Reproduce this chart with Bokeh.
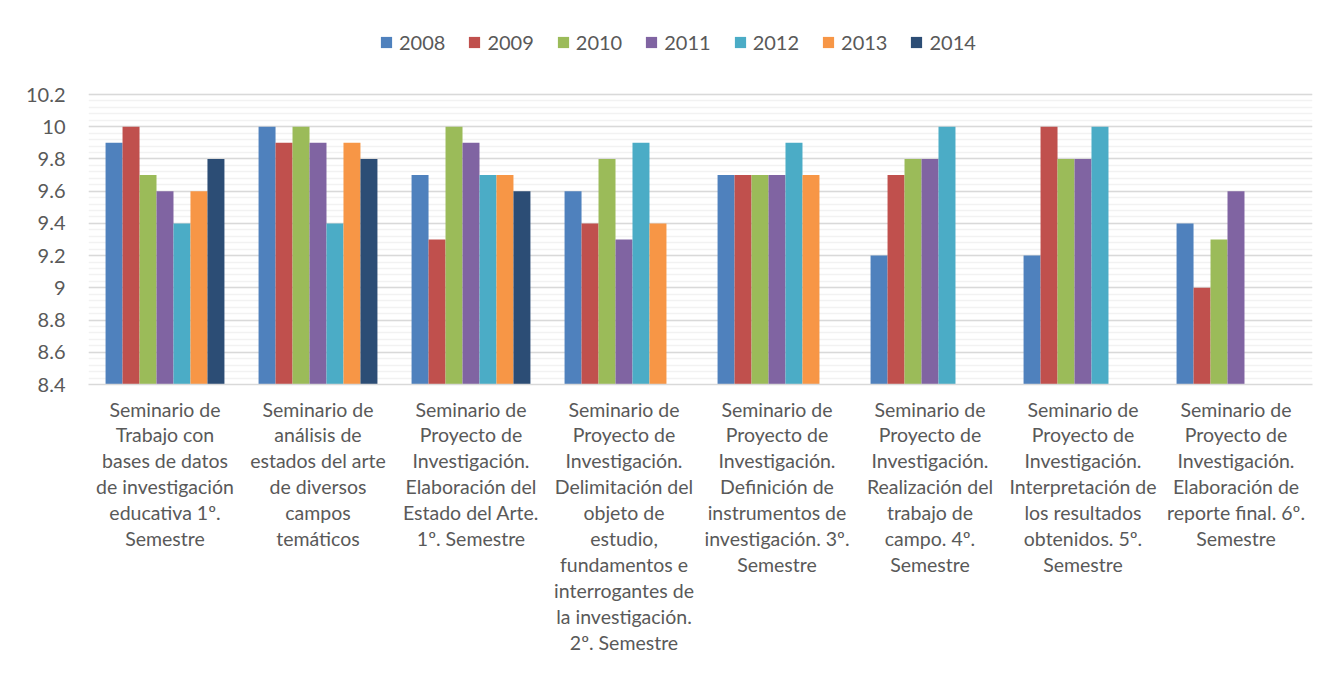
from bokeh.plotting import figure
from bokeh.models import FactorRange, Range1d, FixedTicker, Legend, LegendItem, ColumnDataSource
from bokeh.transform import dodge
from bokeh.embed import file_html
from bokeh.resources import INLINE

categories = [
    "Seminario de\nTrabajo con\nbases de datos\nde investigación\neducativa 1º.\nSemestre",
    "Seminario de\nanálisis de\nestados del arte\nde diversos\ncampos\ntemáticos",
    "Seminario de\nProyecto de\nInvestigación.\nElaboración del\nEstado del Arte.\n1º. Semestre",
    "Seminario de\nProyecto de\nInvestigación.\nDelimitación del\nobjeto de\nestudio,\nfundamentos e\ninterrogantes de\nla investigación.\n2º. Semestre",
    "Seminario de\nProyecto de\nInvestigación.\nDefinición de\ninstrumentos de\ninvestigación. 3º.\nSemestre",
    "Seminario de\nProyecto de\nInvestigación.\nRealización del\ntrabajo de\ncampo. 4º.\nSemestre",
    "Seminario de\nProyecto de\nInvestigación.\nInterpretación de\nlos resultados\nobtenidos. 5º.\nSemestre",
    "Seminario de\nProyecto de\nInvestigación.\nElaboración de\nreporte final. 6º.\nSemestre",
]

years = ["2008", "2009", "2010", "2011", "2012", "2013", "2014"]

v2008 = [9.9, 10.0, 9.7, 9.6, 9.7, 9.2, 9.2, 9.4]
v2009 = [10.0, 9.9, 9.3, 9.4, 9.7, 9.7, 10.0, 9.0]
v2010 = [9.7, 10.0, 10.0, 9.8, 9.7, 9.8, 9.8, 9.3]
v2011 = [9.6, 9.9, 9.9, 9.3, 9.7, 9.8, 9.8, 9.6]
v2012 = [9.4, 9.4, 9.7, 9.9, 9.9, 10.0, 10.0, None]
v2013 = [9.6, 9.9, 9.7, 9.4, 9.7, None, None, None]
v2014 = [9.8, 9.8, 9.6, None, None, None, None, None]
series = [v2008, v2009, v2010, v2011, v2012, v2013, v2014]

colors = ["#4F81BD", "#C0504D", "#9BBB59", "#8064A2", "#4BACC6", "#F79646", "#2C4D75"]

y_ticks = [8.4, 8.6, 8.8, 9.0, 9.2, 9.4, 9.6, 9.8, 10.0, 10.2]
y_minor = [round(8.4 + 0.04 * i, 2) for i in range(46)]
y_base = 8.4
y_min = 8.4
# extra headroom above 10.2 holds the legend (no gridlines there)
y_max = 10.2 + 1.8 * 94 / 290

p = figure(
    x_range=FactorRange(*categories, range_padding=0),
    y_range=Range1d(y_min, y_max),
    width=1336, height=671,
    min_border_left=88, min_border_right=24, min_border_top=0, min_border_bottom=287,
    output_backend="svg", toolbar_location=None,
)
p.x_range.range_padding = 0
p.x_range.group_padding = 0
p.outline_line_color = None
p.background_fill_color = "white"
p.border_fill_color = "white"

bw = 0.111
items = []
for i, (yr, vals, c) in enumerate(zip(years, series, colors)):
    xs = [cat for cat, v in zip(categories, vals) if v is not None]
    ts = [v for v in vals if v is not None]
    src = ColumnDataSource(dict(x=xs, top=ts))
    r = p.vbar(x=dodge("x", (i - 3) * bw, range=p.x_range), top="top", bottom=y_base,
               width=bw, source=src, fill_color=c, line_color=None)
    items.append(LegendItem(label=yr, renderers=[r]))

legend = Legend(items=items, orientation="horizontal", location=(291, 330),
                glyph_width=14, glyph_height=14, label_standoff=6, spacing=22,
                padding=0, margin=0, border_line_color=None, background_fill_alpha=0,
                label_text_font="Lato", label_text_font_size="20px", label_text_color="#595959")
p.add_layout(legend, "center")

# y axis
p.yaxis.ticker = FixedTicker(ticks=y_ticks, minor_ticks=y_minor)
p.yaxis.major_label_overrides = {10.0: "10", 9.0: "9"}
p.yaxis.axis_line_color = None
p.yaxis.major_tick_line_color = None
p.yaxis.minor_tick_line_color = None
p.yaxis.major_label_text_font = "Lato"
p.yaxis.major_label_text_font_size = "20px"
p.yaxis.major_label_text_color = "#595959"
p.yaxis.major_label_standoff = 17

# x axis
p.xaxis.axis_line_color = "#D9D9D9"
p.xaxis.axis_line_width = 1.5
p.xaxis.major_tick_line_color = None
p.xaxis.minor_tick_line_color = None
p.xaxis.major_label_text_font = "Lato"
p.xaxis.major_label_text_font_size = "19.5px"
p.xaxis.major_label_text_color = "#595959"
p.xaxis.major_label_text_line_height = 1.13
p.xaxis.major_label_standoff = 7
p.xaxis.major_label_orientation = "horizontal"

p.xgrid.grid_line_color = None
p.ygrid.grid_line_color = "#D9D9D9"
p.ygrid.grid_line_width = 1.5
p.ygrid.minor_grid_line_color = "#F2F2F2"
p.ygrid.minor_grid_line_width = 1.5

open("out.html", "w").write(file_html(p, INLINE))
